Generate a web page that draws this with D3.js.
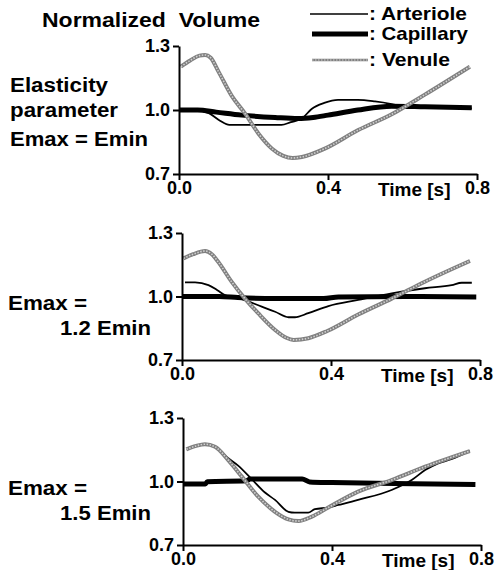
<!DOCTYPE html>
<html>
<head>
<meta charset="utf-8">
<script src="https://cdn.jsdelivr.net/npm/d3@7"></script>
<style>
  body { margin: 0; background: #fff; }
  svg text { font-family: "Liberation Sans", Arial, Helvetica, sans-serif; font-weight: bold; fill: #000; }
</style>
</head>
<body>
<div id="chart"></div>
<script>
// ---- data: [time (s), normalized volume] ----
var arteriole1 = [[0,1.0],[0.04,1.0],[0.08,0.985],[0.11,0.95],[0.135,0.93],[0.2,0.93],[0.275,0.93],[0.30,0.943],[0.33,0.96],[0.356,1.005],[0.39,1.033],[0.427,1.047],[0.48,1.047],[0.526,1.04],[0.571,1.028],[0.607,1.015],[0.66,1.012],[0.72,1.01],[0.786,1.008]];
var capillary1 = [[0,1.0],[0.05,1.0],[0.1,0.99],[0.168,0.976],[0.258,0.965],[0.32,0.96],[0.36,0.965],[0.40,0.976],[0.48,1.0],[0.571,1.018],[0.66,1.015],[0.786,1.01]];
var venule1    = [[0.005,1.203],[0.03,1.232],[0.055,1.255],[0.07,1.258],[0.085,1.245],[0.106,1.18],[0.142,1.065],[0.177,0.984],[0.213,0.89],[0.249,0.82],[0.28,0.785],[0.305,0.775],[0.33,0.78],[0.39,0.818],[0.481,0.906],[0.571,0.98],[0.66,1.072],[0.781,1.203]];

var arteriole2 = [[0.008,1.067],[0.035,1.067],[0.071,1.054],[0.095,1.03],[0.115,1.007],[0.16,0.988],[0.214,0.952],[0.25,0.928],[0.286,0.902],[0.303,0.902],[0.339,0.921],[0.393,0.955],[0.473,0.984],[0.563,1.015],[0.652,1.039],[0.724,1.054],[0.751,1.065],[0.778,1.065]];
var capillary2 = [[0,1.0],[0.1,1.0],[0.15,0.995],[0.25,0.99],[0.38,0.99],[0.42,0.998],[0.6,1.0],[0.79,0.998]];
var venule2    = [[0.004,1.18],[0.03,1.2],[0.062,1.215],[0.08,1.2],[0.097,1.164],[0.133,1.07],[0.169,0.99],[0.205,0.92],[0.25,0.842],[0.28,0.805],[0.3,0.795],[0.339,0.803],[0.39,0.837],[0.473,0.915],[0.563,0.99],[0.652,1.07],[0.773,1.168]];

var arteriole3 = [[0.009,1.152],[0.035,1.168],[0.059,1.176],[0.086,1.164],[0.12,1.112],[0.148,1.075],[0.184,1.012],[0.22,0.948],[0.247,0.913],[0.283,0.857],[0.3,0.853],[0.336,0.853],[0.354,0.869],[0.39,0.877],[0.417,0.889],[0.47,0.913],[0.56,0.96],[0.614,1.007],[0.65,1.054],[0.685,1.086],[0.72,1.105],[0.77,1.144]];
var capillary3 = [[0,0.988],[0.06,0.988],[0.065,0.999],[0.17,1.003],[0.18,1.012],[0.32,1.012],[0.34,0.998],[0.4,0.995],[0.52,0.992],[0.785,0.986]];
var venule3    = [[0.009,1.152],[0.035,1.168],[0.059,1.176],[0.086,1.164],[0.122,1.10],[0.158,1.023],[0.202,0.928],[0.247,0.857],[0.283,0.821],[0.31,0.813],[0.346,0.834],[0.39,0.877],[0.47,0.952],[0.56,1.007],[0.65,1.07],[0.77,1.144]];

var yTicks = [0.7, 1.0, 1.3];
var xTicks = [0, 0.4, 0.8];
var seriesNames = ["Arteriole", "Capillary", "Venule"];
var panelLabels = [["Elasticity", "parameter", "Emax = Emin"], ["Emax =", "1.2 Emin"], ["Emax =", "1.5 Emin"]];

var W = 494, H = 570;

// panel boxes in pixels
var panels = [
  {x0:179, x1:477, top:46,  bottom:174, data:[arteriole1, capillary1, venule1]},
  {x0:182, x1:480, top:233, bottom:360, data:[arteriole2, capillary2, venule2]},
  {x0:183, x1:481, top:418, bottom:545, data:[arteriole3, capillary3, venule3]}
];

var svg = d3.select('#chart').append('svg')
  .attr('width', W)
  .attr('height', H);

function label(x, y, s, len, size) {
  var t = svg.append('text').attr('x', x).attr('y', y)
    .style('font-size', (size || 20) + 'px').style('white-space', 'pre').text(s);
  if (len) t.attr('textLength', len).attr('lengthAdjust', 'spacingAndGlyphs');
  return t;
}

label(42, 27, 'Normalized  Volume', 218, 21);

// line styles
function drawSeries(g, pts, i, line) {
  if (i == 0) {
    g.append('path').datum(pts).attr('d', line)
      .style('fill','none').style('stroke','#000').style('stroke-width',1.8);
  } else if (i == 1) {
    g.append('path').datum(pts).attr('d', line)
      .style('fill','none').style('stroke','#000').style('stroke-width',5);
  } else {
    g.append('path').datum(pts).attr('d', line)
      .style('fill','none').style('stroke','#808080').style('stroke-width',4);
    g.append('path').datum(pts).attr('d', line)
      .style('fill','none').style('stroke','#d0d0d0').style('stroke-width',1.6)
      .style('stroke-dasharray','1.5,1.5');
  }
}

panels.forEach(function(p, k) {
  var x = d3.scaleLinear().domain([0, 0.8]).range([p.x0, p.x1]);
  var y = d3.scaleLinear().domain([0.7, 1.3]).range([p.bottom, p.top]);
  var line = d3.line()
    .x(function(d){ return x(d[0]); })
    .y(function(d){ return y(d[1]); })
    .curve(d3.curveMonotoneX);

  var g = svg.append('g');
  // arteriole, capillary, then venule on top
  [0, 1, 2].forEach(function(i){ drawSeries(g, p.data[i], i, line); });

  var yAxis = svg.append('g')
    .attr('transform', 'translate(' + p.x0 + ',0)')
    .call(d3.axisLeft(y).tickValues(yTicks).tickSize(6).tickSizeOuter(0).tickFormat(d3.format('.1f')));
  var xAxis = svg.append('g')
    .attr('transform', 'translate(0,' + p.bottom + ')')
    .call(d3.axisBottom(x).tickValues(xTicks).tickSize(6).tickSizeOuter(0).tickFormat(d3.format('.1f')));
  [yAxis, xAxis].forEach(function(a){
    a.select('.domain').style('stroke','#000').style('stroke-width',2);
    a.selectAll('.tick line').style('stroke','#000').style('stroke-width',2);
    a.selectAll('.tick text').style('font-size','18px').style('font-family','"Liberation Sans", Arial, sans-serif');
  });
  xAxis.selectAll('.tick text').attr('y', 7);

  label(p.x0 + 199, p.bottom + 22, 'Time [s]', null, 19);

  // side labels
  var labs = panelLabels[k];
  if (k == 0) {
    label(10, 92, labs[0], 98);
    label(10, 117, labs[1], 108);
    label(10, 146, labs[2], 138);
  } else {
    label(8, p.top + 77, labs[0], 79);
    label(60, p.top + 102, labs[1], 91);
  }
});

// legend
var legY = [14, 34, 60];
var legLen = [98, 99, 81];
seriesNames.forEach(function(name, i) {
  var lg = svg.append('g');
  var pts = [[0, 0], [1, 0]];
  var lx = d3.scaleLinear().domain([0, 1]).range([i == 0 ? 310 : 312, 368]);
  var ln = d3.line().x(function(d){ return lx(d[0]); }).y(legY[i]);
  if (i == 2) {
    lg.append('path').datum(pts).attr('d', ln)
      .style('stroke','#808080').style('stroke-width',2.5);
    lg.append('path').datum(pts).attr('d', ln)
      .style('stroke','#d0d0d0').style('stroke-width',1).style('stroke-dasharray','1.5,1.5');
  } else {
    lg.append('path').datum(pts).attr('d', ln)
      .style('stroke','#000').style('stroke-width', i == 0 ? 1.6 : 5);
  }
  label(369, legY[i] + 5.5, ': ' + name, legLen[i], 18.5);
});
</script>
</body>
</html>
